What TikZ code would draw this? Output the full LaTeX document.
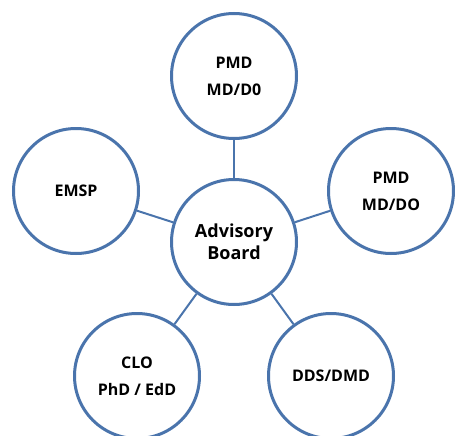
\documentclass[tikz,border=0pt]{standalone}
\usepackage{fontspec}
\setmainfont{Open Sans}
\usepackage{tikz}
\usetikzlibrary{shapes,positioning,backgrounds,calc}
\definecolor{ringblue}{RGB}{74,116,172}
\newcommand{\cd}{125}
\newcommand{\mcirc}[4][16]{
  \node [bubble,font={\fontsize{#1}{27}\selectfont\bfseries}] at #2 (#4) {#3};
}
\newcommand{\medge}[2]{
  \begin{scope}[on background layer]
    \draw [spoke] #1 -- #2;
  \end{scope}
}
\tikzset{
  bubble/.style={circle,draw=ringblue,line width=3pt,fill=white,
    minimum size=\cd pt,inner sep=0pt,align=center,text=black},
  spoke/.style={draw=ringblue,line width=2pt}
}

\begin{document}
\begin{tikzpicture}[x=1pt,y=-1pt]
  \useasboundingbox (0,0) rectangle (455,436);
  \node [bubble,font={\fontsize{18}{22}\selectfont\bfseries}] at (234,242) (a) {Advisory\\Board};
  \mcirc{(234,76)}{PMD\\MD/D0}{b}
  \mcirc{(391,191)}{PMD\\MD/DO}{c}
  \mcirc{(331,376)}{DDS/DMD}{d}
  \mcirc{(137,376)}{CLO\\PhD / EdD}{e}
  \mcirc{(76,191)}{EMSP}{f}

  \medge{(a)}{(b)}
  \medge{(a)}{(c)}
  \medge{(a)}{(d)}
  \medge{(a)}{(e)}
  \medge{(a)}{(f)}
\end{tikzpicture}
\end{document}
